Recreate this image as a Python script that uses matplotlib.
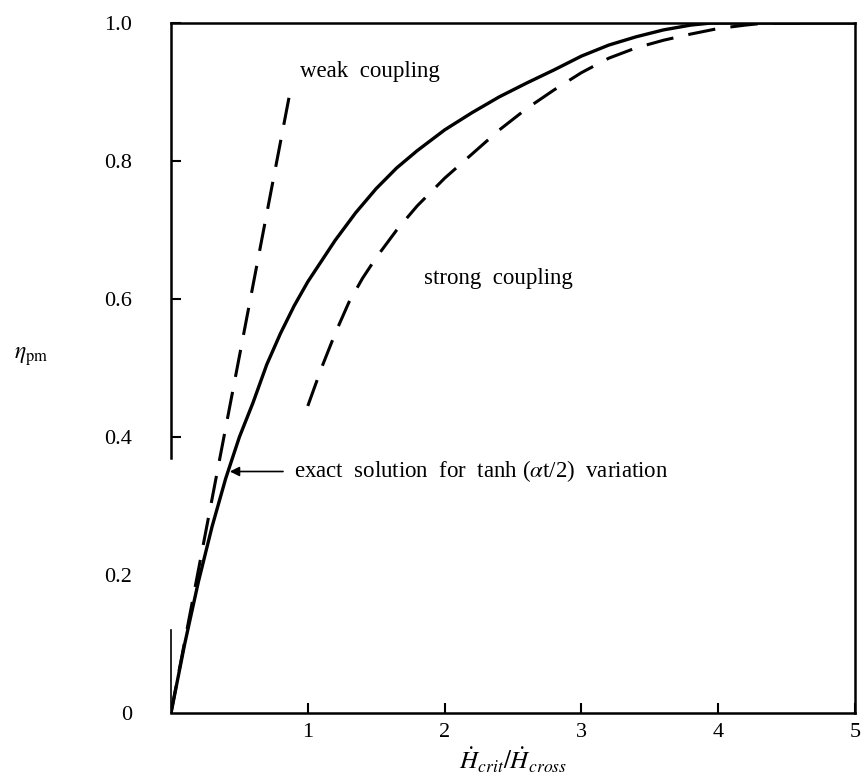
import matplotlib
matplotlib.use("Agg")
from matplotlib import pyplot as plt

plt.rcParams['font.family'] = ['Liberation Serif', 'DejaVu Serif']
plt.rcParams['mathtext.fontset'] = 'stix'

# exact solution (solid)
exact_x = [0, 0.05, 0.1, 0.2, 0.3, 0.4, 0.5, 0.6, 0.7, 0.8, 0.9, 1.0, 1.1,
           1.2, 1.35, 1.5, 1.65, 1.8, 2.0, 2.2, 2.4, 2.6, 2.8, 3.0, 3.2, 3.4,
           3.6, 3.8, 3.95, 4.2, 5.0]
exact_y = [0, 0.05, 0.10, 0.19, 0.27, 0.34, 0.40, 0.45, 0.505, 0.55, 0.59,
           0.625, 0.655, 0.685, 0.725, 0.76, 0.79, 0.815, 0.845, 0.87, 0.893,
           0.913, 0.932, 0.952, 0.968, 0.98, 0.99, 0.997, 1.0, 1.0, 1.0]

# weak coupling (dashed, straight)
weak_x = [0, 0.88]
weak_y = [0, 0.91]

# strong coupling (dashed)
strong_x = [1.0, 1.1, 1.2, 1.3, 1.4, 1.5, 1.65, 1.8, 2.0, 2.2, 2.4, 2.6, 2.8,
            3.0, 3.2, 3.4, 3.6, 3.8, 4.0, 4.2, 4.35, 4.7]
strong_y = [0.445, 0.50, 0.55, 0.595, 0.63, 0.66, 0.70, 0.735, 0.775, 0.81,
            0.845, 0.876, 0.903, 0.928, 0.949, 0.964, 0.975, 0.984, 0.992,
            0.997, 1.0, 1.0]

yticks = [0, 0.2, 0.4, 0.6, 0.8, 1.0]
ytick_labels = ['0', '0.2', '0.4', '0.6', '0.8', '1.0']
xticks = [1, 2, 3, 4, 5]
xtick_labels = ['1', '2', '3', '4', '5']

fig = plt.figure(figsize=(8.61, 7.80), dpi=100)
ax = fig.add_axes([171 / 861, 1 - 713 / 780, 684 / 861, 690 / 780])

ax.plot(exact_x, exact_y, color='black', lw=2.4, solid_capstyle='round',
        solid_joinstyle='round')
ax.plot(weak_x, weak_y, color='black', lw=2.2, dashes=(9, 5))
ax.plot(strong_x, strong_y, color='black', lw=2.2, dashes=(9, 5))

ax.set_xlim(0, 5)
ax.set_ylim(0, 1.0)
ax.set_xticks(xticks)
ax.set_xticklabels(xtick_labels)
ax.set_yticks(yticks)
ax.set_yticklabels(ytick_labels)
ax.tick_params(direction='in', length=7, width=1.5, labelsize=16)
ax.tick_params(axis='y', pad=28)
ax.tick_params(axis='x', pad=7)

for sp in ax.spines.values():
    sp.set_linewidth(1.8)
# left frame line is broken in the original
ax.spines['left'].set_bounds(0.37, 1.0)
ax.plot([0, 0], [0, 0.12], color='black', lw=1.2, clip_on=False)
for t, v in zip(ax.yaxis.get_major_ticks(), yticks):
    if v < 0.37:
        t.tick1line.set_visible(False)

ax.text(0.94, 0.93, 'weak  coupling', fontsize=16.5, va='center')
ax.text(1.85, 0.63, 'strong  coupling', fontsize=16.5, va='center')
ax.annotate('exact  solution  for  tanh ($\\alpha$t/2)  variation',
            xy=(0.43, 0.35), xytext=(0.9, 0.35), fontsize=16.5, va='center',
            arrowprops=dict(arrowstyle='-|>', color='black', lw=1.2,
                            shrinkA=6, shrinkB=0, mutation_scale=14))

ax.set_xlabel(r'$\dot{H}_{crit}/\dot{H}_{cross}$', fontsize=18, labelpad=3)
ax.set_ylabel(r'$\eta_{\rm pm}$', fontsize=17, rotation=0)
ax.yaxis.set_label_coords(-0.205, 0.50)

fig.savefig('out.png', dpi=100)
